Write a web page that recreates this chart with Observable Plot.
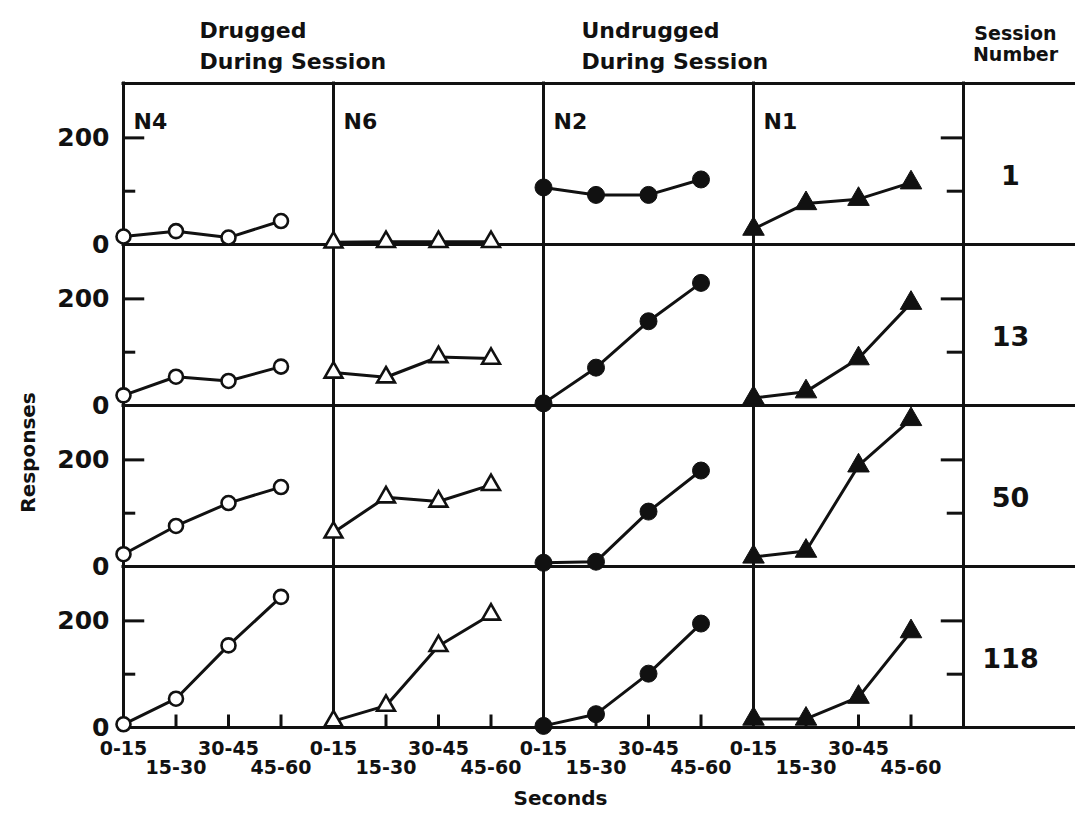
<!DOCTYPE html>
<html>
<head>
<meta charset="utf-8">
<script src="https://cdn.jsdelivr.net/npm/d3@7"></script>
<script src="https://cdn.jsdelivr.net/npm/@observablehq/plot@0.6"></script>
<style>
  body { margin: 0; background: #fff; }
  #chart svg { display: block; }
</style>
</head>
<body>
<div id="chart"></div>
<script>
// ---- data ----
const subjects = ["N4", "N6", "N2", "N1"];
const sessions = ["1", "13", "50", "118"];
const intervals = ["0-15", "15-30", "30-45", "45-60"];
const yTickLabels = [0, 200];
const yTicksLong = [200];
const yTicksShort = [100];

// responses per 15-s interval; one inner array per session (1, 13, 50, 118)
const n4Responses = [[15, 25, 13, 44], [19, 54, 46, 73], [23, 76, 119, 149], [6, 54, 154, 245]];
const n6Responses = [[4, 5, 5, 5], [62, 53, 91, 88], [64, 130, 122, 153], [12, 41, 153, 212]];
const n2Responses = [[107, 93, 93, 122], [4, 71, 158, 230], [7, 9, 103, 180], [3, 25, 101, 195]];
const n1Responses = [[29, 77, 85, 116], [14, 26, 88, 192], [18, 29, 189, 276], [16, 16, 57, 180]];

const headerDrugged = "Drugged\nDuring Session";
const headerUndrugged = "Undrugged\nDuring Session";
const headerSession = "Session\nNumber";
const yTitle = "Responses";
const xTitle = "Seconds";

// ---- layout ----
const W = 1075, H = 820, ML = 121, MR = 111, MT = 82, MB = 92;
const facetW = (W - ML - MR) / subjects.length;
const facetH = (H - MT - MB) / sessions.length;
const xMax = intervals.length;
const yMax = 302;
const FONT = "'DejaVu Sans', sans-serif";
const INK = "#111";

const bySubject = {N4: n4Responses, N6: n6Responses, N2: n2Responses, N1: n1Responses};
const rows = subjects.flatMap(subject =>
  sessions.flatMap((session, si) =>
    intervals.map((interval, i) => ({subject, session, i, interval, value: bySubject[subject][si][i]}))));

const n4Rows = sessions.map(session => ({subject: "N4", session}));
const n1Rows = sessions.map(session => ({subject: "N1", session}));
const topRow = subjects.map(subject => ({subject, session: sessions[0]}));
const bottomTicks = subjects.flatMap(subject =>
  intervals.slice(1).map((interval, k) => ({subject, session: sessions[sessions.length - 1], i: k + 1})));

const markerStyles = {
  N4: {symbol: "circle", r: 7, fill: "white", strokeWidth: 2.6},
  N6: {symbol: "triangle", r: 6.6, fill: "white", strokeWidth: 2.6},
  N2: {symbol: "circle", r: 8.5, fill: INK, strokeWidth: 1},
  N1: {symbol: "triangle", r: 8, fill: INK, strokeWidth: 1}
};

const fxfy = {fx: "subject", fy: "session"};
const ruleStyle = {stroke: INK, strokeWidth: 3, strokeLinecap: "square"};
const textStyle = {fontFamily: FONT, fontWeight: "bold", fill: INK};

const marks = [
  // panel grid lines
  Plot.ruleX([0], {...ruleStyle}),
  Plot.ruleX(n1Rows, {...fxfy, x: () => xMax, ...ruleStyle}),
  Plot.ruleY([0], {...ruleStyle, insetRight: -MR}),
  Plot.ruleY(topRow, {...fxfy, y: () => yMax, ...ruleStyle, insetRight: -MR}),
  // inner y ticks (left column and right column)
  Plot.tickY(n4Rows.flatMap(d => yTicksLong.map(y => ({...d, y}))), {...fxfy, y: "y", stroke: INK, strokeWidth: 3, insetRight: facetW - 22}),
  Plot.tickY(n4Rows.flatMap(d => yTicksShort.map(y => ({...d, y}))), {...fxfy, y: "y", stroke: INK, strokeWidth: 3, insetRight: facetW - 13}),
  Plot.tickY(n1Rows.flatMap(d => yTicksLong.map(y => ({...d, y}))), {...fxfy, y: "y", stroke: INK, strokeWidth: 3, insetLeft: facetW - 23}),
  Plot.tickY(n1Rows.flatMap(d => yTicksShort.map(y => ({...d, y}))), {...fxfy, y: "y", stroke: INK, strokeWidth: 3, insetLeft: facetW - 17}),
  // bottom x ticks
  Plot.tickX(bottomTicks, {...fxfy, x: "i", stroke: INK, strokeWidth: 3, insetTop: facetH - 13}),
  // data
  Plot.line(rows, {...fxfy, x: "i", y: "value", z: "subject", stroke: INK, strokeWidth: 3}),
  ...subjects.map(s => Plot.dot(rows.filter(d => d.subject === s), {
    ...fxfy, x: "i", y: "value", stroke: INK, ...markerStyles[s]
  })),
  // axes
  Plot.axisY({ticks: yTickLabels, tickSize: 0, tickPadding: 14, fontSize: 25, ...textStyle, label: null}),
  Plot.axisX({ticks: [0, 2], tickFormat: i => intervals[i], tickSize: 0, tickPadding: 14, fontSize: 19, ...textStyle, label: null}),
  Plot.axisX({ticks: [1, 3], tickFormat: i => intervals[i], tickSize: 0, tickPadding: 33, fontSize: 19, ...textStyle, label: null}),
  Plot.axisFy({anchor: "right", tickSize: 0, tickPadding: 47, textAnchor: "middle", dy: 12, fontSize: 27, ...textStyle, label: null}),
  // panel labels
  Plot.text(topRow, {...fxfy, text: "subject", frameAnchor: "top-left", textAnchor: "start", dx: 10, dy: 30, fontSize: 22, ...textStyle}),
  // headers and titles
  Plot.text([{subject: "N4", session: sessions[0]}], {...fxfy, text: () => headerDrugged, frameAnchor: "top-left", textAnchor: "start", lineAnchor: "top", lineHeight: 1.42, dx: 76, dy: -68, fontSize: 22, ...textStyle}),
  Plot.text([{subject: "N2", session: sessions[0]}], {...fxfy, text: () => headerUndrugged, frameAnchor: "top-left", textAnchor: "start", lineAnchor: "top", lineHeight: 1.42, dx: 38, dy: -68, fontSize: 22, ...textStyle}),
  Plot.text([{subject: "N1", session: sessions[0]}], {...fxfy, text: () => headerSession, frameAnchor: "top-right", textAnchor: "middle", lineAnchor: "top", lineHeight: 1.08, dx: 52, dy: -58, fontSize: 19, ...textStyle}),
  Plot.text([{subject: "N4", session: sessions[2]}], {...fxfy, text: () => yTitle, frameAnchor: "top-left", textAnchor: "middle", rotate: -90, dx: -103, dy: 47, fontSize: 20, ...textStyle}),
  Plot.text([{subject: "N2", session: sessions[3]}], {...fxfy, text: () => xTitle, frameAnchor: "bottom-left", textAnchor: "middle", dx: 17, dy: 77, fontSize: 20, ...textStyle})
];

const chart = Plot.plot({
  width: W, height: H,
  marginLeft: ML, marginRight: MR, marginTop: MT, marginBottom: MB,
  style: {fontFamily: FONT, background: "white", color: INK},
  x: {domain: [0, xMax]},
  y: {domain: [0, yMax]},
  fx: {domain: subjects, padding: 0, axis: null},
  fy: {domain: sessions, padding: 0},
  marks
});
document.getElementById("chart").appendChild(chart);
</script>
</body>
</html>
